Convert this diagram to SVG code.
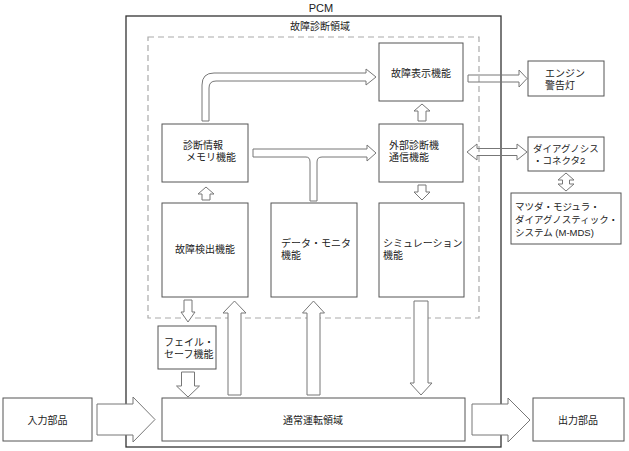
<svg xmlns="http://www.w3.org/2000/svg" width="629" height="451" viewBox="0 0 629 451">
<style>
text{font-family:"Liberation Sans","Noto Sans CJK JP",sans-serif;font-size:10px;fill:#222;dominant-baseline:central}
.lat{font-size:11px}
.box{fill:#fff;stroke:#555;stroke-width:1}
.frame{fill:none;stroke:#333;stroke-width:1.3}
.dash{fill:none;stroke:#aaa;stroke-width:1.2;stroke-dasharray:6 4}
.arr{fill:#fff;stroke:#777;stroke-width:1;stroke-linejoin:miter}
.arrt{fill:none;stroke:#777;stroke-width:1}
.sm{font-size:9.5px}
</style>
<rect width="629" height="451" fill="#fff"/>
<g id="frames">
<rect class="frame" x="126" y="16" width="375" height="431"/>
<text class="lat" x="321" y="8" text-anchor="middle">PCM</text>
<rect class="dash" x="148" y="37" width="331" height="281"/>
<text x="320" y="26" text-anchor="middle">故障診断領域</text>
</g>
<g id="connectors">
<path class="arr" d="M202,121 L202,85 Q202,73 214,73 L366,73 L366,69 L376,77 L366,85 L366,81 L216,81 Q209,81 209,88 L209,121 Z"/>
<path class="arr" d="M253,149 L367,149 L367,145 L376,153 L367,161 L367,157 L322,157 Q317,157 317,162 L317,201 L310,201 L310,162 Q310,157 306,157 L253,157 Z"/>
<path class="arrt" d="M468,75 L519,75 L519,70 L527,78.5 L519,87 L519,82 L468,82 Z"/>
<path class="arrt" d="M467,152 L477,144 L477,148.5 L517,148.5 L517,144 L527,152 L517,160 L517,155.5 L477,155.5 L477,160 Z"/>
<path class="arr" d="M566,173 L574,180 L569.5,180 L569.5,184 L574,184 L566,191 L558,184 L562.5,184 L562.5,180 L558,180 Z"/>
<path class="arr" d="M422,104 L430,111 L426,111 L426,121 L418,121 L418,111 L414,111 Z"/>
<path class="arr" d="M418,185 L426,185 L426,192 L430,192 L422,200 L414,192 L418,192 Z"/>
<path class="arr" d="M206,187 L214,194 L210,194 L210,200 L202,200 L202,194 L198,194 Z"/>
<path class="arr" d="M184,300 L192,300 L192,312 L195,312 L188,322 L181,312 L184,312 Z"/>
<path class="arr" d="M181.5,372 L194.5,372 L194.5,386 L199.5,386 L188,397 L176.5,386 L181.5,386 Z"/>
<path class="arr" d="M234.5,301 L246,313 L241,313 L241,395 L228,395 L228,313 L223,313 Z"/>
<path class="arr" d="M313.5,301 L324.5,313 L320,313 L320,395 L307,395 L307,313 L302.5,313 Z"/>
<path class="arr" d="M414,301 L428,301 L428,383 L432,383 L421,395 L410,383 L414,383 Z"/>
<path class="arr" d="M97,404 L133,404 L133,397 L155,419.5 L133,442 L133,435 L97,435 Z"/>
<path class="arr" d="M472,404 L508,404 L508,398 L530,420 L508,442 L508,435 L472,435 Z"/>
</g>
<g id="n-display"><rect class="box" x="379" y="43" width="84" height="58"/><text x="421" y="73" text-anchor="middle">故障表示機能</text></g>
<g id="n-memory"><rect class="box" x="162" y="124" width="86" height="58"/><text y="145"><tspan x="183">診断情報</tspan><tspan x="186" dy="12">メモリ機能</tspan></text></g>
<g id="n-external"><rect class="box" x="379" y="124" width="84" height="58"/><text y="145"><tspan x="389">外部診断機</tspan><tspan x="389" dy="12">通信機能</tspan></text></g>
<g id="n-detect"><rect class="box" x="162" y="203" width="86" height="94"/><text x="205" y="249" text-anchor="middle">故障検出機能</text></g>
<g id="n-monitor"><rect class="box" x="271" y="203" width="86" height="94"/><text y="243"><tspan x="281">データ・モニタ</tspan><tspan x="281" dy="12">機能</tspan></text></g>
<g id="n-sim"><rect class="box" x="379" y="203" width="85" height="94"/><text y="243"><tspan x="383">シミュレーション</tspan><tspan x="383" dy="12">機能</tspan></text></g>
<g id="n-failsafe"><rect class="box" x="158" y="326" width="58" height="43"/><text y="342"><tspan x="164">フェイル・</tspan><tspan x="164" dy="12">セーフ機能</tspan></text></g>
<g id="n-normal"><rect class="box" x="162" y="398" width="303" height="43"/><text x="313" y="420" text-anchor="middle">通常運転領域</text></g>
<g id="n-input"><rect class="box" x="3" y="398" width="89" height="43"/><text x="47.5" y="420" text-anchor="middle">入力部品</text></g>
<g id="n-output"><rect class="box" x="533" y="398" width="91" height="43"/><text x="578" y="420" text-anchor="middle">出力部品</text></g>
<g id="n-lamp"><rect class="box" x="528" y="61" width="76" height="35"/><text y="73"><tspan x="545">エンジン</tspan><tspan x="545" dy="12">警告灯</tspan></text></g>
<g id="n-connector"><rect class="box" x="528" y="137" width="76" height="34"/><text class="sm" y="148"><tspan x="533">ダイアグノシス</tspan><tspan x="533" dy="12">・コネクタ2</tspan></text></g>
<g id="n-mmds"><rect class="box" x="511" y="193" width="110" height="51"/><text class="sm" y="206"><tspan x="515">マツダ・モジュラ・</tspan><tspan x="515" dy="13">ダイアグノスティック・</tspan><tspan x="515" dy="13">システム (M-MDS)</tspan></text></g>
</svg>
